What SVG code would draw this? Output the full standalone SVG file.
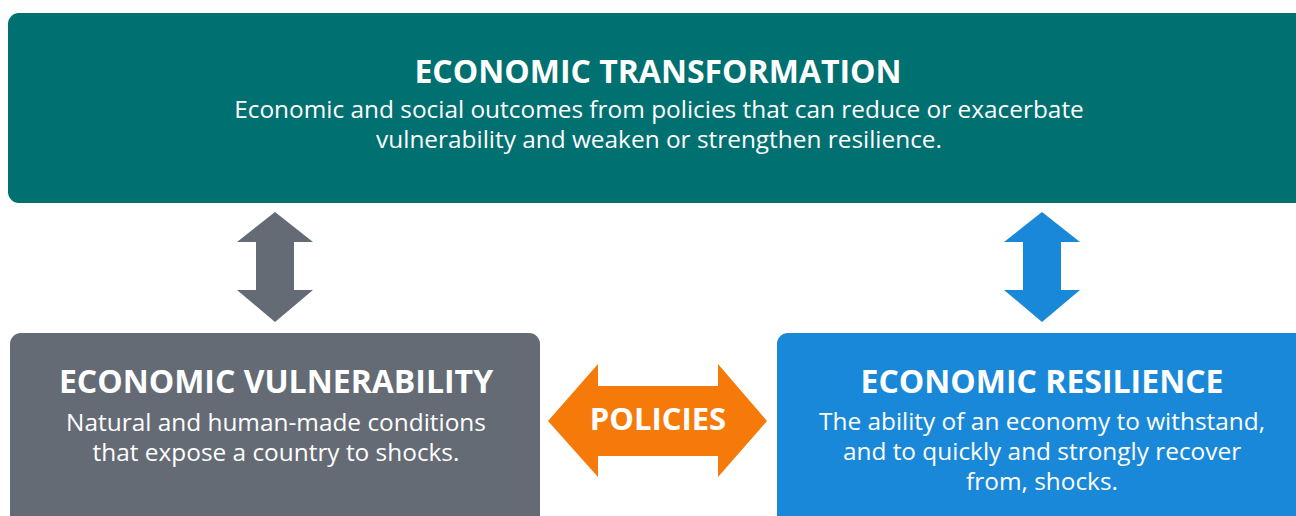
<svg xmlns="http://www.w3.org/2000/svg" width="1296" height="516" viewBox="0 0 1296 516">
<style>
.t{font-family:"Open Sans","Liberation Sans",sans-serif;fill:#ffffff;text-anchor:middle}
.h{font-weight:bold;font-size:32px}
.s{font-size:24.4px}
</style>
<rect width="1296" height="516" fill="#ffffff"/>
<g id="transformation">
<rect x="8" y="13" width="1300" height="190" rx="11" fill="#007070"/>
<text class="t h" x="658" y="83">ECONOMIC TRANSFORMATION</text>
<text class="t s" x="659" y="118" font-size="25.2">Economic and social outcomes from policies that can reduce or exacerbate</text>
<text class="t s" x="659" y="148" font-size="25.2">vulnerability and weaken or strengthen resilience.</text>
</g>
<g id="vulnerability">
<rect x="10" y="333" width="530" height="200" rx="11" fill="#646b75"/>
<text class="t h" x="276" y="393">ECONOMIC VULNERABILITY</text>
<text class="t s" x="276" y="431">Natural and human-made conditions</text>
<text class="t s" x="276" y="461">that expose a country to shocks.</text>
</g>
<g id="resilience">
<rect x="777" y="333" width="540" height="200" rx="11" fill="#1a88d8"/>
<text class="t h" x="1042" y="393">ECONOMIC RESILIENCE</text>
<text class="t s" x="1042" y="430">The ability of an economy to withstand,</text>
<text class="t s" x="1042" y="460">and to quickly and strongly recover</text>
<text class="t s" x="1042" y="490">from, shocks.</text>
</g>
<g id="connectors">
<polygon points="275,212 313,242 294,242 294,290 313,290 275,322 237,290 256,290 256,242 237,242" fill="#646b75"/>
<polygon points="1042,212 1080,242 1061,242 1061,290 1080,290 1042,322 1004,290 1023,290 1023,242 1004,242" fill="#1a88d8"/>
<g id="policies">
<polygon points="548,421 598,364 598,386 718,386 718,364 767,421 718,477 718,456 598,456 598,477" fill="#f57a0a"/>
<text class="t" x="658" y="430" font-weight="bold" font-size="31">POLICIES</text>
</g>
</g>
</svg>
